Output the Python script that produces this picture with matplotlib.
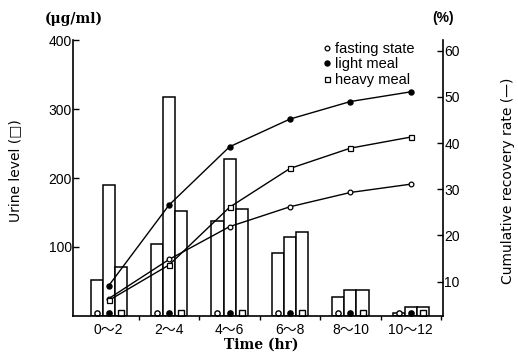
import numpy as np
import matplotlib.pyplot as plt

plt.rcParams['font.family'] = ['Liberation Sans', 'Noto Sans CJK JP']

# time intervals after dosing
periods = ['0～2', '2～4', '4～6', '6～8', '8～10', '10～12']

# urine level per interval (ug/ml)
urine_fasting = [52, 104, 138, 91, 28, 5]
urine_light = [190, 317, 227, 115, 38, 13]
urine_heavy = [71, 152, 155, 122, 38, 13]

# cumulative recovery rate (%)
rec_fasting = [6.3, 14.8, 21.9, 26.2, 29.3, 31.1]
rec_light = [9.1, 26.6, 39.2, 45.2, 49.0, 51.1]
rec_heavy = [5.9, 13.6, 26.1, 34.5, 38.9, 41.3]

x = np.arange(len(periods))
w = 0.2

fig = plt.figure(figsize=(5.18, 3.55), dpi=100)
ax = fig.add_axes([0.141, 0.110, 0.714, 0.777])

bar_sets = [(urine_fasting, -w, dict(marker='o', mfc='white', ms=3.8)),
            (urine_light, 0, dict(marker='o', mfc='black', ms=3.8)),
            (urine_heavy, w, dict(marker='s', mfc='white', ms=4.0))]
for vals, off, mk in bar_sets:
    ax.bar(x + off, vals, width=w, color='white', edgecolor='black', linewidth=1.1)
    ax.plot(x + off, [5] * len(x), ls='none', mec='black', mew=1.0, **mk)

ax.set_xlim(-0.59, 5.53)
ax.set_ylim(0, 400)
ax.set_yticks([100, 200, 300, 400])
ax.tick_params(axis='y', direction='in', length=4, width=1, labelsize=10, pad=1)
ax.set_xticks(x)
ax.set_xticklabels(periods, fontsize=10)
ax.tick_params(axis='x', length=0, pad=5)
ax.set_xticks(np.arange(0.5, 6, 1), minor=True)
ax.tick_params(axis='x', which='minor', direction='out', length=3, width=1)
ax.spines['top'].set_visible(False)
ax.spines['right'].set_visible(False)
for s in ['left', 'bottom']:
    ax.spines[s].set_linewidth(1.2)

ax2 = ax.twinx()
ax2.set_ylim(2.55, 62.3)
ax2.set_yticks([10, 20, 30, 40, 50, 60])
ax2.tick_params(axis='y', direction='in', length=4, width=1, labelsize=10, pad=1)
ax2.spines['top'].set_visible(False)
ax2.spines['left'].set_visible(False)
ax2.spines['bottom'].set_visible(False)
ax2.spines['right'].set_linewidth(1.2)

l1, = ax2.plot(x, rec_fasting, color='black', lw=1, marker='o', ms=3.4,
               mfc='white', mew=0.9, label='fasting state')
l2, = ax2.plot(x, rec_light, color='black', lw=1, marker='o', ms=3.6,
               mfc='black', label='light meal')
l3, = ax2.plot(x, rec_heavy, color='black', lw=1, marker='s', ms=3.6,
               mfc='white', mew=0.9, label='heavy meal')

leg = ax2.legend(handles=[l1, l2, l3], loc='upper left',
                 bbox_to_anchor=(0.668, 1.02), frameon=False,
                 handlelength=0, handletextpad=0.5, labelspacing=0.1,
                 borderpad=0, fontsize=10.5)
for h in leg.legend_handles:
    h.set_linestyle('none')

fig.text(0.143, 0.948, '(μg/ml)', ha='center', va='center', fontsize=10,
         family='DejaVu Serif', weight='bold')
fig.text(0.855, 0.948, '(%)', ha='center', va='center', fontsize=10, weight='bold')
fig.text(0.03, 0.52, 'Urine level (□)', rotation=90, ha='center', va='center',
         fontsize=10, family=['DejaVu Sans', 'Noto Sans CJK JP'])
fig.text(0.98, 0.49, 'Cumulative recovery rate (—)', rotation=90, ha='center',
         va='center', fontsize=10, family=['DejaVu Sans', 'Noto Sans CJK JP'])
fig.text(0.505, 0.028, 'Time (hr)', ha='center', va='center', fontsize=10,
         family='DejaVu Serif', weight='bold')

fig.savefig('out.png', dpi=100, facecolor='white')
